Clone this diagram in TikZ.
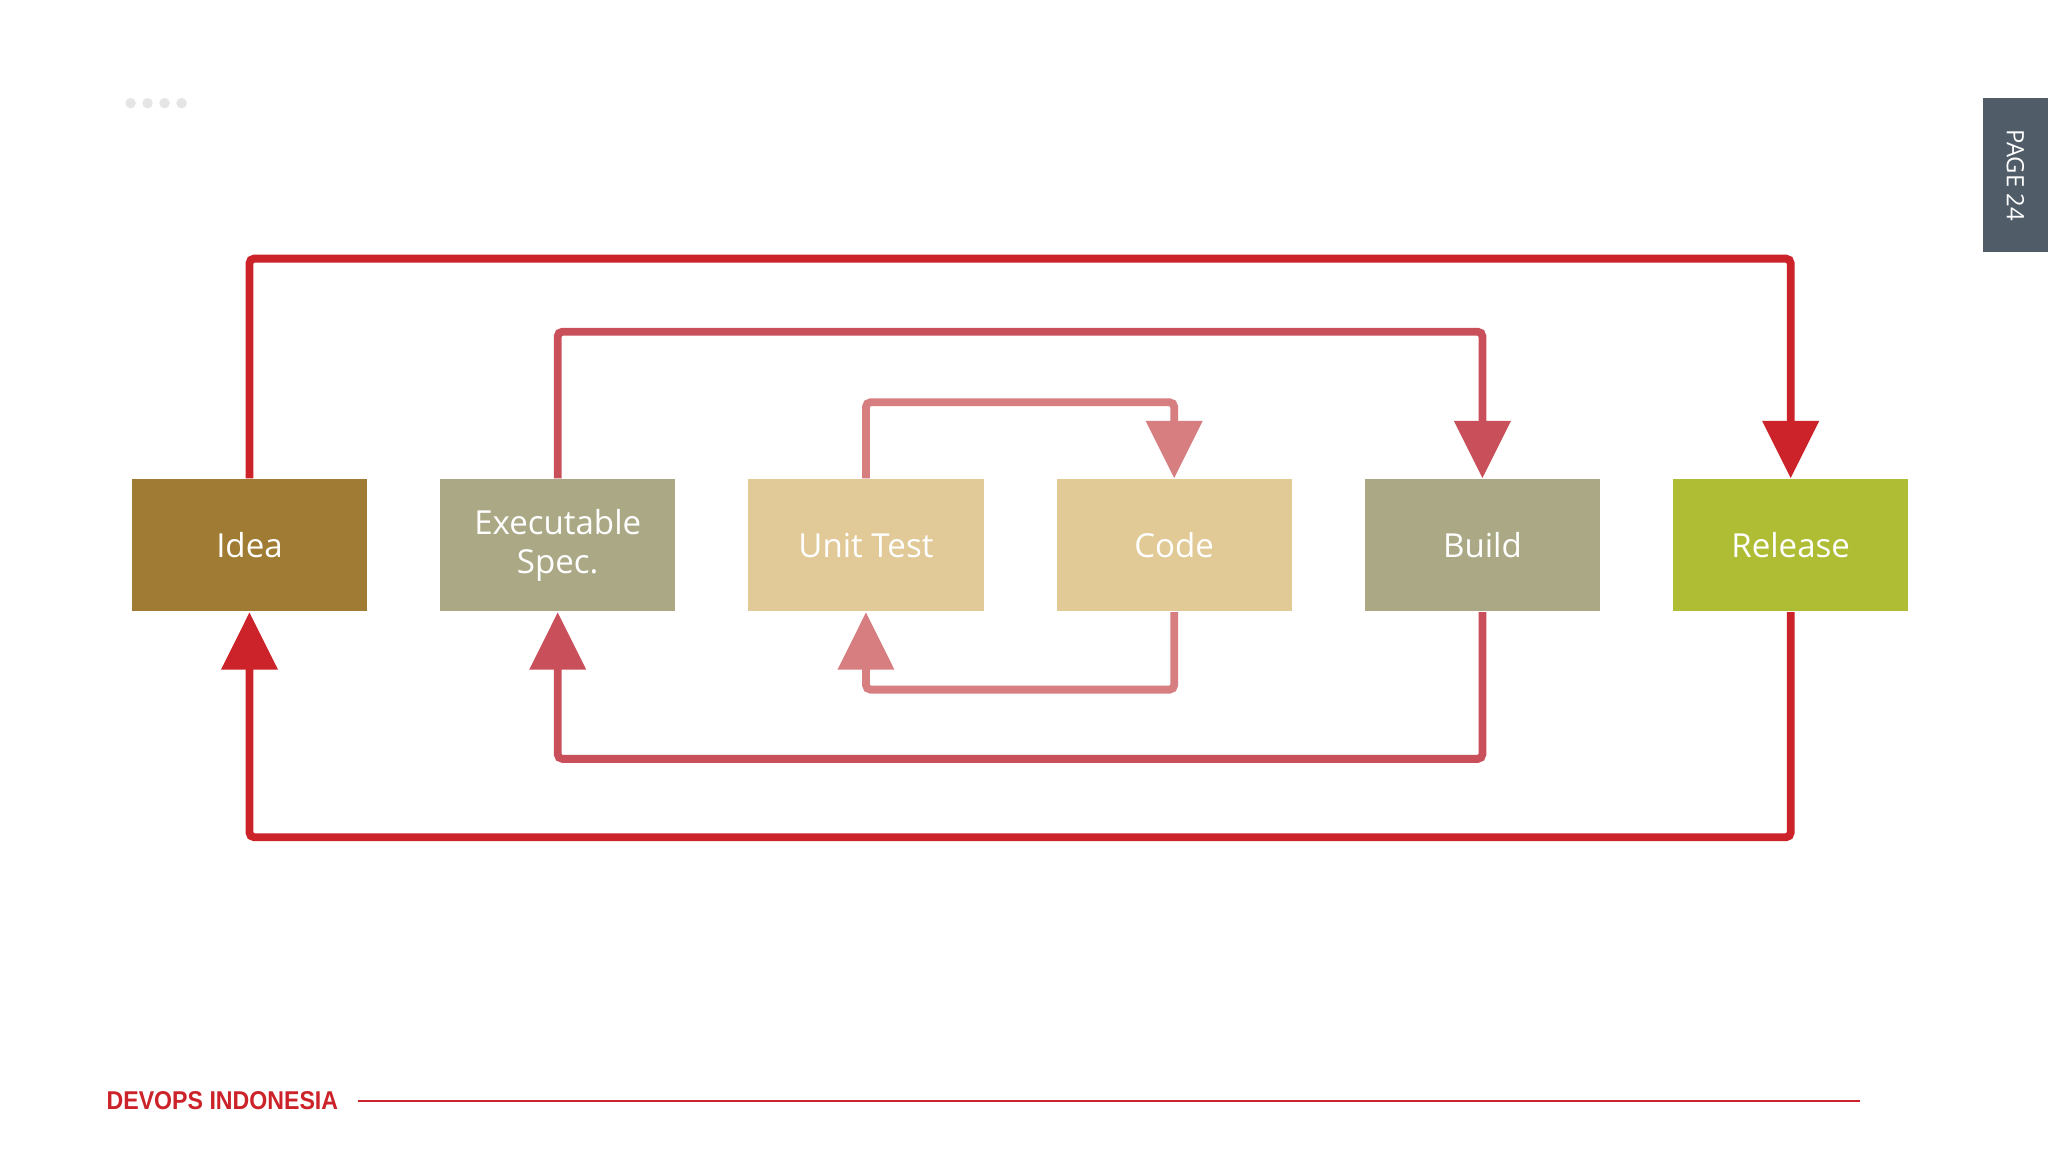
\documentclass[tikz,border=0pt]{standalone}
\usepackage{fontspec}
\setmainfont{Open Sans}
\newfontfamily\condfont{Liberation Sans}
\usetikzlibrary{arrows.meta}
\definecolor{cOut}{HTML}{CC2229}
\definecolor{cMid}{HTML}{C9505A}
\definecolor{cIn}{HTML}{D77F80}
\tikzset{
  box/.style={minimum width=1.8cm,minimum height=1.01cm,inner sep=0pt,text=white,align=center,font=\fontsize{7.2}{8.6}\selectfont},
  loop/.style={line width=1.7pt,rounded corners=1pt,-{Triangle[length=0.44cm,width=0.42cm]}},
}
\begin{document}
\begin{tikzpicture}[x=0.01cm,y=-0.01cm]
\useasboundingbox (0,0) rectangle (1568,882);
\fill[white] (0,0) rectangle (1568,882);
\foreach \x in {100,113,126,139} \fill[black!10] (\x,79) circle (4);
\fill[fill={rgb,255:red,80;green,93;blue,104}] (1518,75) rectangle (1568,193);
\node[rotate=-90,text=white,font=\fontsize{5.2}{6}\selectfont] (tab) at (1543,134) {PAGE 24};
\node[box,fill={rgb,255:red,160;green,123;blue,51}] (idea) at (191,417.5) {Idea};
\node[box,fill={rgb,255:red,170;green,168;blue,133}] (spec) at (427,417.5) {Executable\\Spec.};
\node[box,fill={rgb,255:red,225;green,202;blue,152}] (unit) at (663,417.5) {Unit Test};
\node[box,fill={rgb,255:red,225;green,202;blue,150}] (code) at (899,417.5) {Code};
\node[box,fill={rgb,255:red,170;green,168;blue,133}] (build) at (1135,417.5) {Build};
\node[box,fill={rgb,255:red,175;green,189;blue,52}] (release) at (1371,417.5) {Release};
\draw[loop,cOut] (idea.north) -- (idea.north |- 0,198) -| (release.north);
\draw[loop,cMid] (spec.north) -- (spec.north |- 0,254) -| (build.north);
\draw[loop,cIn] (unit.north) -- (unit.north |- 0,308) -| (code.north);
\draw[loop,cIn] (code.south) -- (code.south |- 0,528) -| (unit.south);
\draw[loop,cMid] (build.south) -- (build.south |- 0,581) -| (spec.south);
\draw[loop,cOut] (release.south) -- (release.south |- 0,641) -| (idea.south);
\node[anchor=west,inner sep=0pt,text=cOut,font=\condfont\bfseries\fontsize{5.6}{6}\selectfont,xscale=0.9] (brand) at (81,843) {DEVOPS INDONESIA};
\coordinate (lineend) at (1424,843);
\draw[cOut,line width=0.4pt] (274,843) -- (lineend);
\end{tikzpicture}
\end{document}
